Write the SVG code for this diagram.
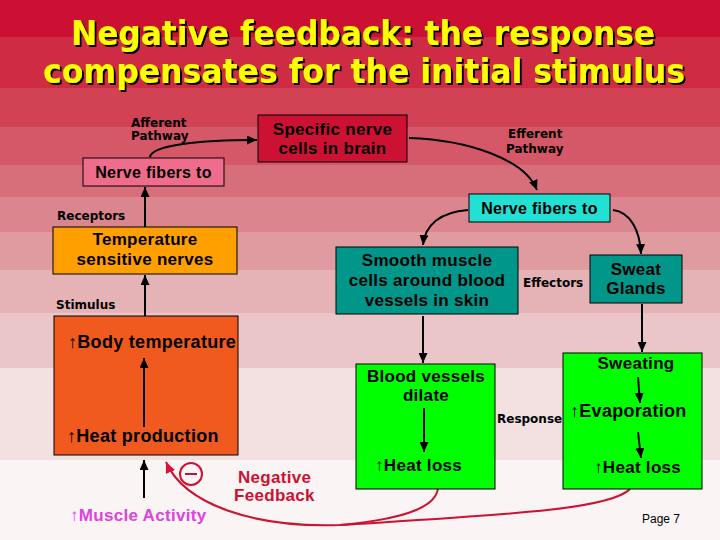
<svg xmlns="http://www.w3.org/2000/svg" width="720" height="540" viewBox="0 0 720 540">
<style>
.title{font-family:'DejaVu Sans Condensed','DejaVu Sans',sans-serif;font-stretch:condensed;font-weight:bold;font-size:34px;fill:#FFFF00}
.t{font-family:'Liberation Sans',Arial,sans-serif;font-weight:bold;font-size:17px;fill:#000;letter-spacing:0.3px}
.big{font-size:18px}
.lbl{font-family:'DejaVu Sans',sans-serif;font-weight:bold;font-size:12px;fill:#000}
.box{stroke:#000;stroke-width:1}
.c{fill:none;stroke:#000;stroke-width:2}
.r{fill:none;stroke:#CC1133;stroke-width:2}
.mid{text-anchor:middle}
</style>
<defs>
<filter id="shadow" x="-5%" y="-20%" width="110%" height="150%">
<feDropShadow dx="2" dy="2" stdDeviation="0" flood-color="#000" flood-opacity="1"/>
</filter>
<marker id="ah" markerUnits="userSpaceOnUse" markerWidth="10" markerHeight="9" refX="10" refY="4.5" orient="auto" viewBox="0 0 10 9">
<path d="M0,0 L10,4.5 L0,9 z" fill="#000"/>
</marker>
<marker id="ahr" markerUnits="userSpaceOnUse" markerWidth="11" markerHeight="10" refX="11" refY="5" orient="auto" viewBox="0 0 11 10">
<path d="M0,0 L11,5 L0,10 z" fill="#E0103A"/>
</marker>
</defs>
<g id="background">
<rect x="0" y="0" width="720" height="37" fill="#CC1033"/>
<rect x="0" y="37" width="720" height="51" fill="#D02B45"/>
<rect x="0" y="88" width="720" height="39" fill="#D14255"/>
<rect x="0" y="127" width="720" height="38" fill="#D45868"/>
<rect x="0" y="165" width="720" height="32" fill="#D76F7B"/>
<rect x="0" y="197" width="720" height="35" fill="#DB858E"/>
<rect x="0" y="232" width="720" height="38" fill="#E09BA1"/>
<rect x="0" y="270" width="720" height="43" fill="#E5B2B6"/>
<rect x="0" y="313" width="720" height="55" fill="#EBC6C9"/>
<rect x="0" y="368" width="720" height="92" fill="#F3E1E2"/>
<rect x="0" y="460" width="720" height="80" fill="#FAF4F4"/>
</g>
<g id="title" filter="url(#shadow)">
<text class="title" x="71" y="45" textLength="584" lengthAdjust="spacingAndGlyphs">Negative feedback: the response</text>
<text class="title" x="43" y="83" textLength="642" lengthAdjust="spacingAndGlyphs">compensates for the initial stimulus</text>
</g>
<g id="connectors">
<path class="c" d="M145,227 L145,187" marker-end="url(#ah)"/>
<path class="c" d="M150,157 C152,145 200,140 257,140" marker-end="url(#ah)"/>
<path class="c" d="M409,138 C470,140 525,160 537,190" marker-end="url(#ah)"/>
<path class="c" d="M468,210 C440,212 425,225 423,245" marker-end="url(#ah)"/>
<path class="c" d="M613,210 C630,212 640,230 641,254" marker-end="url(#ah)"/>
<path class="c" d="M423,316 L423,363" marker-end="url(#ah)"/>
<path class="c" d="M642,304 L642,352" marker-end="url(#ah)"/>
<path class="c" d="M145,316 L145,275" marker-end="url(#ah)"/>
<path class="c" d="M144,498 L144,460" marker-end="url(#ah)"/>
<path class="r" d="M630,489 C610,510 500,515 340,525 C255,528 185,505 166,462" marker-end="url(#ahr)"/>
<path class="r" d="M438,488 C436,510 395,520 340,525"/>
</g>
<g id="brain">
<rect class="box" x="258" y="115" width="149" height="47" fill="#CC1133"/>
<text class="t mid" x="332.5" y="135">Specific nerve</text>
<text class="t mid" x="332.5" y="154">cells in brain</text>
</g>
<g id="nerve-fibers-left">
<rect class="box" x="83" y="158" width="141" height="28" fill="#F06C8C"/>
<text class="t mid" x="153.5" y="178" style="font-size:16px">Nerve fibers to</text>
</g>
<g id="nerve-fibers-right">
<rect class="box" x="469" y="194" width="141" height="28" fill="#22E0D2"/>
<text class="t mid" x="539.5" y="214" style="font-size:16px">Nerve fibers to</text>
</g>
<g id="temperature-nerves">
<rect class="box" x="53" y="227" width="184" height="47" fill="#FF9F00"/>
<text class="t mid" x="145" y="245">Temperature</text>
<text class="t mid" x="145" y="265">sensitive nerves</text>
</g>
<g id="body">
<rect class="box" x="54" y="316" width="184" height="139" fill="#F15A1F"/>
<text class="t big" x="68" y="348">↑Body temperature</text>
<path class="c" d="M144,427 L144,358" marker-end="url(#ah)"/>
<text class="t big" x="67" y="442">↑Heat production</text>
</g>
<g id="smooth-muscle">
<rect class="box" x="336" y="247" width="182" height="67" fill="#00968A"/>
<text class="t mid" x="427" y="266">Smooth muscle</text>
<text class="t mid" x="427" y="286">cells around blood</text>
<text class="t mid" x="427" y="306">vessels in skin</text>
</g>
<g id="sweat-glands">
<rect class="box" x="590" y="255" width="92" height="48" fill="#00968A"/>
<text class="t mid" x="636" y="275">Sweat</text>
<text class="t mid" x="636" y="294">Glands</text>
</g>
<g id="blood-vessels">
<rect class="box" x="356" y="364" width="139" height="125" fill="#00FF00"/>
<text class="t mid" x="426" y="382">Blood vessels</text>
<text class="t mid" x="426" y="401">dilate</text>
<path class="c" d="M424,408 L424,452" marker-end="url(#ah)"/>
<text class="t" x="375" y="471">↑Heat loss</text>
</g>
<g id="sweating">
<rect class="box" x="563" y="353" width="139" height="136" fill="#00FF00"/>
<text class="t mid" x="636" y="369">Sweating</text>
<path class="c" d="M638,377 L640,403" marker-end="url(#ah)"/>
<text class="t big" x="570" y="417">↑Evaporation</text>
<path class="c" d="M638,432 L641,458" marker-end="url(#ah)"/>
<text class="t" x="594" y="473">↑Heat loss</text>
</g>
<g id="labels">
<text class="lbl" x="131" y="127">Afferent</text>
<text class="lbl" x="131" y="140">Pathway</text>
<text class="lbl" x="508" y="138">Efferent</text>
<text class="lbl" x="506" y="153">Pathway</text>
<text class="lbl" x="57" y="220">Receptors</text>
<text class="lbl" x="56" y="309">Stimulus</text>
<text class="lbl" x="523" y="287">Effectors</text>
<text class="lbl" x="497" y="423">Response</text>
<text class="t" x="238" y="483" style="fill:#CC1133">Negative</text>
<text class="t" x="234" y="501" style="fill:#CC1133">Feedback</text>
<text class="t" x="70" y="521" style="fill:#DD44DD">↑Muscle Activity</text>
<text x="642" y="523" style="font-family:'Liberation Sans',Arial,sans-serif;font-size:12px;fill:#000">Page 7</text>
</g>
<g id="minus">
<circle cx="191" cy="474" r="11" fill="none" stroke="#CC1133" stroke-width="2"/>
<line x1="185" y1="474" x2="197" y2="474" stroke="#CC1133" stroke-width="2"/>
</g>
</svg>
